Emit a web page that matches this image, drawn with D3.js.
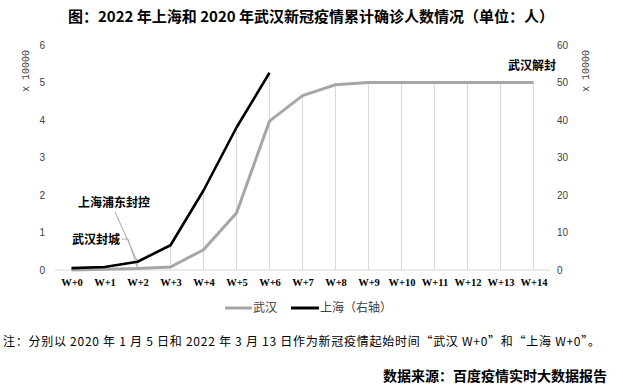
<!DOCTYPE html>
<html>
<head>
<meta charset="utf-8">
<script src="https://cdn.jsdelivr.net/npm/d3@7"></script>
<style>
  body { margin: 0; background: #fff; }
  svg { display: block; }
</style>
</head>
<body>
<div id="chart"></div>
<script>
// categories: weeks since outbreak start
const weeks = ["W+0", "W+1", "W+2", "W+3", "W+4", "W+5", "W+6", "W+7",
  "W+8", "W+9", "W+10", "W+11", "W+12", "W+13", "W+14"];
// Wuhan 2020 cumulative confirmed, x10000 (left axis)
const wuhan = [0.0, 0.02, 0.04, 0.08, 0.54, 1.52, 3.97, 4.65, 4.94, 5.0, 5.0, 5.0, 5.0, 5.0, 5.0];
// Shanghai 2022 cumulative confirmed, x10000 (right axis), only W+0..W+6
const shanghai = [0.5, 0.8, 2.2, 6.6, 21.2, 38.0, 52.6];
const leftTicks = [0, 1, 2, 3, 4, 5, 6];
const rightTicks = [0, 10, 20, 30, 40, 50, 60];

const W = 623, H = 388;
const margin = { top: 45, left: 55, right: 73, bottom: 118 };
const plotW = W - margin.left - margin.right,
  plotH = H - margin.top - margin.bottom;

const svg = d3.select("#chart")
  .append("svg")
  .attr("width", W)
  .attr("height", H);

const cjk = "'Noto Sans CJK SC', 'Noto Sans', sans-serif";

// title
svg.append("text")
  .attr("x", 311)
  .attr("y", 22)
  .attr("text-anchor", "middle")
  .attr("font-family", cjk)
  .attr("font-weight", "700")
  .attr("font-size", "15px")
  .attr("fill", "#000")
  .text("图：2022 年上海和 2020 年武汉新冠疫情累计确诊人数情况（单位：人）");

const g = svg.append("g")
  .attr("transform", `translate(${margin.left},${margin.top})`);

const x = d3.scalePoint()
  .domain(weeks)
  .range([0, plotW])
  .padding(0.5);

const yL = d3.scaleLinear().domain([0, 6]).range([plotH, 0]);
const yR = d3.scaleLinear().domain([0, 60]).range([plotH, 0]);

// drop lines from the highest point down to the axis
g.selectAll(".drop")
  .data(weeks)
  .enter()
  .append("line")
  .attr("x1", d => x(d))
  .attr("x2", d => x(d))
  .attr("y1", plotH)
  .attr("y2", (d, i) => {
    let top = yL(wuhan[i]);
    if (i < shanghai.length) top = Math.min(top, yR(shanghai[i]));
    return top;
  })
  .attr("stroke", "#d9d9d9")
  .attr("stroke-width", 1);

// baseline
g.append("line")
  .attr("x1", 0).attr("x2", plotW)
  .attr("y1", plotH).attr("y2", plotH)
  .attr("stroke", "#d9d9d9")
  .attr("stroke-width", 1);

// left axis
const axL = g.append("g")
  .call(d3.axisLeft(yL).tickValues(leftTicks).tickFormat(d3.format("d")).tickSize(0).tickPadding(10));
axL.select(".domain").remove();
axL.selectAll("text")
  .attr("font-family", "'Liberation Sans', Arial, sans-serif")
  .attr("font-size", "10px")
  .attr("fill", "#404040");

// right axis
const axR = g.append("g")
  .attr("transform", `translate(${plotW},0)`)
  .call(d3.axisRight(yR).tickValues(rightTicks).tickFormat(d3.format("d")).tickSize(0).tickPadding(7));
axR.select(".domain").remove();
axR.selectAll("text")
  .attr("font-family", "'Liberation Sans', Arial, sans-serif")
  .attr("font-size", "10px")
  .attr("fill", "#404040");

// x axis labels
const axX = g.append("g")
  .attr("transform", `translate(0,${plotH})`)
  .call(d3.axisBottom(x).tickSize(0).tickPadding(9));
axX.select(".domain").remove();
axX.selectAll("text")
  .attr("font-family", "'Liberation Serif', serif")
  .attr("font-weight", "700")
  .attr("font-size", "10.5px")
  .attr("fill", "#000");

// axis unit labels
svg.append("text")
  .attr("transform", "translate(29,71) rotate(-90)")
  .attr("text-anchor", "middle")
  .attr("font-family", "'Liberation Mono', monospace")
  .attr("font-size", "10px")
  .attr("fill", "#404040")
  .text("x 10000");

svg.append("text")
  .attr("transform", "translate(589,71) rotate(-90)")
  .attr("text-anchor", "middle")
  .attr("font-family", "'Liberation Mono', monospace")
  .attr("font-size", "10px")
  .attr("fill", "#404040")
  .text("x 10000");

// annotation leader lines
g.append("line")
  .attr("x1", 60).attr("y1", 167)
  .attr("x2", x("W+2")).attr("y2", yR(shanghai[2]))
  .attr("stroke", "#a6a6a6").attr("stroke-width", 1);
g.append("polyline")
  .attr("points", `67,194 73,194 ${x("W+2")},${plotH - 2}`)
  .attr("fill", "none")
  .attr("stroke", "#a6a6a6").attr("stroke-width", 1);

// series lines
const lineL = d3.line()
  .x((d, i) => x(weeks[i]))
  .y(d => yL(d));
const lineR = d3.line()
  .x((d, i) => x(weeks[i]))
  .y(d => yR(d));

g.append("path")
  .datum(wuhan)
  .attr("d", lineL)
  .attr("fill", "none")
  .attr("stroke", "#a6a6a6")
  .attr("stroke-width", 3)
  .attr("stroke-linejoin", "round");

g.append("path")
  .datum(shanghai)
  .attr("d", lineR)
  .attr("fill", "none")
  .attr("stroke", "#000")
  .attr("stroke-width", 2.6)
  .attr("stroke-linejoin", "round");

// annotations
const notes = [
  { text: "上海浦东封控", x: 78, y: 207 },
  { text: "武汉封城", x: 72, y: 244 },
  { text: "武汉解封", x: 508, y: 70 }
];
svg.selectAll(".note")
  .data(notes)
  .enter()
  .append("text")
  .attr("x", d => d.x)
  .attr("y", d => d.y)
  .attr("font-family", cjk)
  .attr("font-weight", "700")
  .attr("font-size", "12px")
  .attr("fill", "#000")
  .text(d => d.text);

// legend
const legend = svg.append("g").attr("transform", "translate(0,308)");
legend.append("line")
  .attr("x1", 225).attr("x2", 252).attr("y1", 0).attr("y2", 0)
  .attr("stroke", "#a6a6a6").attr("stroke-width", 3);
legend.append("text")
  .attr("x", 253).attr("y", 4)
  .attr("font-family", cjk).attr("font-size", "12px").attr("fill", "#404040")
  .text("武汉");
legend.append("line")
  .attr("x1", 291).attr("x2", 319).attr("y1", 0).attr("y2", 0)
  .attr("stroke", "#000").attr("stroke-width", 3);
legend.append("text")
  .attr("x", 320).attr("y", 4)
  .attr("font-family", cjk).attr("font-size", "12px").attr("fill", "#404040")
  .text("上海（右轴）");

// footnote and source
svg.append("text")
  .attr("x", 3).attr("y", 346)
  .attr("textLength", 597)
  .attr("lengthAdjust", "spacing")
  .attr("font-family", cjk).attr("font-size", "12px").attr("fill", "#000")
  .text("注：分别以 2020 年 1 月 5 日和 2022 年 3 月 13 日作为新冠疫情起始时间“武汉 W+0”和“上海 W+0”。");

svg.append("text")
  .attr("x", 607).attr("y", 381)
  .attr("text-anchor", "end")
  .attr("font-family", cjk).attr("font-weight", "700").attr("font-size", "14px").attr("fill", "#000")
  .text("数据来源：百度疫情实时大数据报告");
</script>
</body>
</html>
